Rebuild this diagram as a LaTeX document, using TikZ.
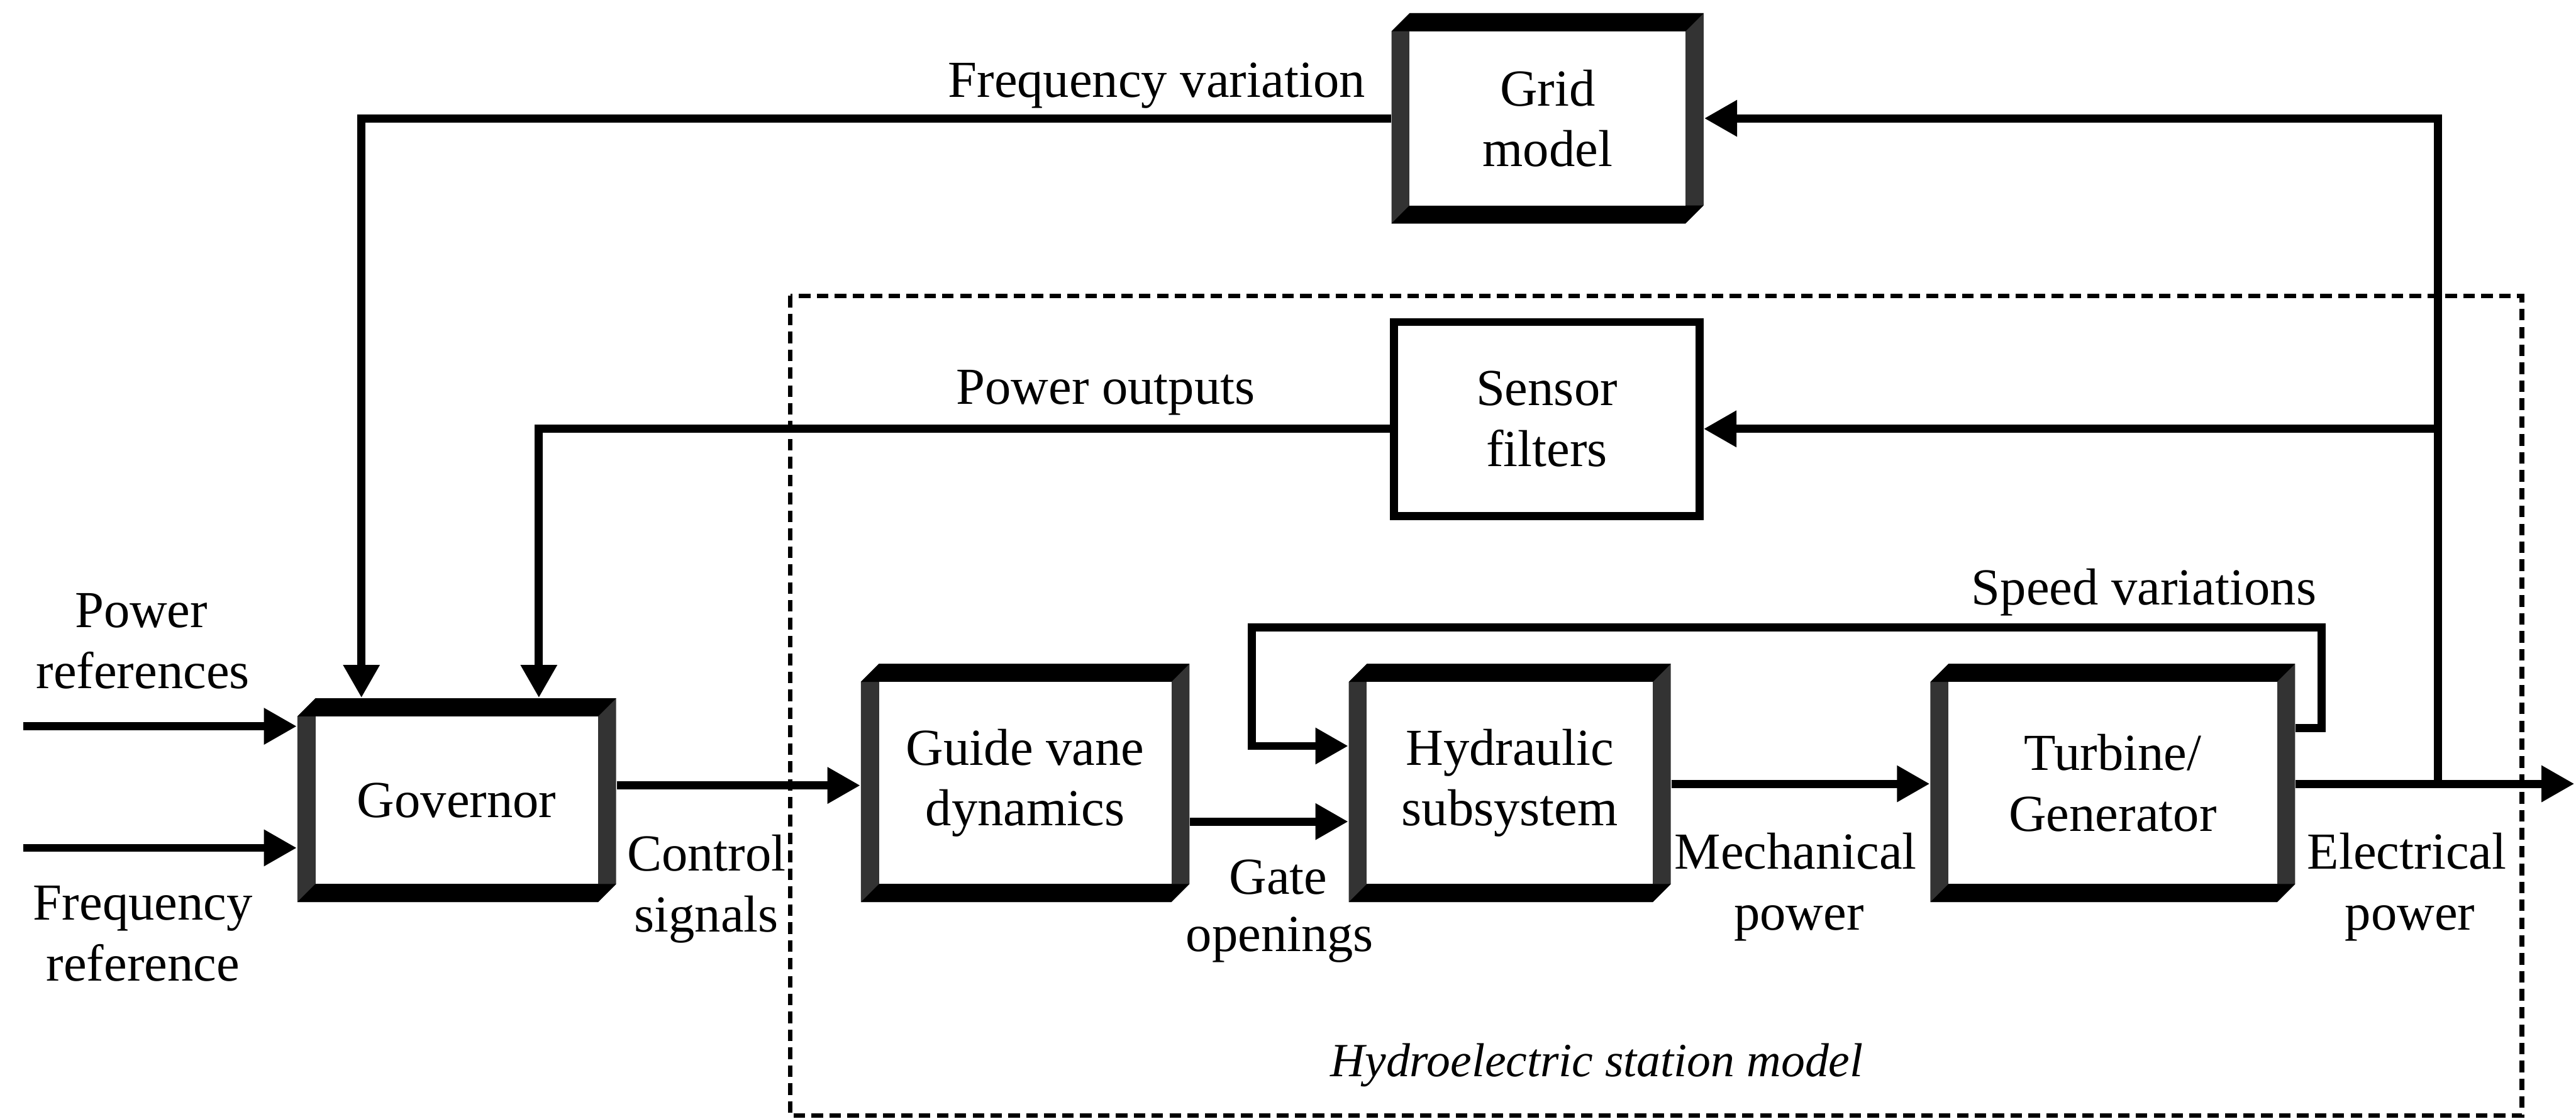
\documentclass[tikz,border=0pt]{standalone}
\usepackage{fontspec}
\setmainfont{Liberation Serif}
\usetikzlibrary{arrows.meta}
% beveled 3D block: name, x1, y1, x2, y2, text
\newcommand{\bevbox}[6]{%
  \fill[black!80] ({#2},{#3+11}) -- ({#2+11},{#3}) -- ({#4},{#3}) -- ({#4},{#5-11}) -- ({#4-11},{#5}) -- ({#2},{#5}) -- cycle;
  \fill[black] ({#2},{#3+11}) -- ({#2+11},{#3}) -- ({#4},{#3}) -- ({#4-11},{#3+11}) -- cycle;
  \fill[black] ({#2},{#5}) -- ({#4-11},{#5}) -- ({#4},{#5-11}) -- ({#2+11},{#5-11}) -- cycle;
  \fill[white] ({#2+11},{#3+11}) rectangle ({#4-11},{#5-11});
  \node[boxtext, minimum width={(#4-#2)*0.02cm}, minimum height={(#5-#3)*0.02cm}] (#1) at ({(#2+#4)/2},{(#3+#5)/2}) {#6};
}
\begin{document}
\begin{tikzpicture}[x=0.02cm,y=-0.02cm,
  lab/.style={font=\fontsize{18}{21}\selectfont, inner sep=0pt, anchor=base},
  boxtext/.style={font=\fontsize{18}{21}\selectfont, align=center, inner sep=0pt},
  conn/.style={line width=2.8pt, -{Triangle[length=0.4cm,width=0.42cm]}},
  plainbox/.style={draw, line width=2.8pt, fill=white, font=\fontsize{18}{21}\selectfont, align=center, inner sep=0pt},
  stationbox/.style={draw, line width=1.6pt, dash pattern=on 4pt off 2.2pt}
  ]
\useasboundingbox (0,0) rectangle (1568,681);

% dashed station frame
\draw[stationbox] (481,180) rectangle (1535,679);
\node[font=\fontsize{16.5}{19}\selectfont\itshape, inner sep=0pt, anchor=base] (hsm) at (972,655) {Hydroelectric station model};

% blocks
\bevbox{gov}{181}{425}{375}{549}{Governor}
\bevbox{gvd}{524}{404}{724}{549}{Guide vane\\dynamics}
\bevbox{hyd}{821}{404}{1017}{549}{Hydraulic\\subsystem}
\bevbox{tg}{1175}{404}{1397}{549}{Turbine/\\Generator}
\bevbox{grid}{847}{8}{1037}{136}{Grid\\model}
\node[plainbox, minimum width={186*0.02cm}, minimum height={118*0.02cm}] (sensor) at (941.5,255) {Sensor\\filters};

% coordinates
\coordinate (pr) at (14,442);
\coordinate (fr) at (14,516);
\coordinate (cs) at (0,478);
\coordinate (go) at (0,500);
\coordinate (mp) at (0,477);
\coordinate (sv) at (0,454);
\coordinate (lr1) at (1413,443);
\coordinate (lr2) at (1413,382);
\coordinate (lr3) at (762,382);
\coordinate (lr4) at (762,454);
\coordinate (elecend) at (1567,477);
\coordinate (br) at (1484,477);
\coordinate (bs) at (1484,261);
\coordinate (fv) at (220,72);
\coordinate (po) at (328,261);

% connectors
\draw[conn] (pr) -- (gov.west |- pr);
\draw[conn] (fr) -- (gov.west |- fr);
\draw[conn] (gov.east |- cs) -- (gvd.west |- cs);
\draw[conn] (gvd.east |- go) -- (hyd.west |- go);
\draw[conn] (hyd.east |- mp) -- (tg.west |- mp);
\draw[conn] (tg.east |- lr1) -- (lr1) -- (lr2) -- (lr3) -- (lr4) -- (hyd.west |- lr4);
\draw[conn] (tg.east |- elecend) -- (elecend);
\draw[conn] (br) -- (br |- grid.east) -- (grid.east);
\draw[conn] (bs) -- (sensor.east |- bs);
\draw[conn] (grid.west) -- (fv) -- (fv |- gov.north);
\draw[conn] (sensor.west |- po) -- (po) -- (po |- gov.north);

% labels
\node[lab] (lfv) at (704,59) {Frequency variation};
\node[lab] (lpo) at (673,246) {Power outputs};
\node[lab] (lsv) at (1305,368) {Speed variations};
\node[lab] (lpr1) at (86,382) {Power};
\node[lab] (lpr2) at (87,419) {references};
\node[lab] (lfr1) at (87,560) {Frequency};
\node[lab] (lfr2) at (87,597) {reference};
\node[lab] (lcs1) at (430,530) {Control};
\node[lab] (lcs2) at (430,567) {signals};
\node[lab] (lgo1) at (778,544) {Gate};
\node[lab] (lgo2) at (779,579) {openings};
\node[lab] (lmp1) at (1093,529) {Mechanical};
\node[lab] (lmp2) at (1095,566) {power};
\node[lab] (lep1) at (1465,529) {Electrical};
\node[lab] (lep2) at (1467,566) {power};
\end{tikzpicture}
\end{document}
